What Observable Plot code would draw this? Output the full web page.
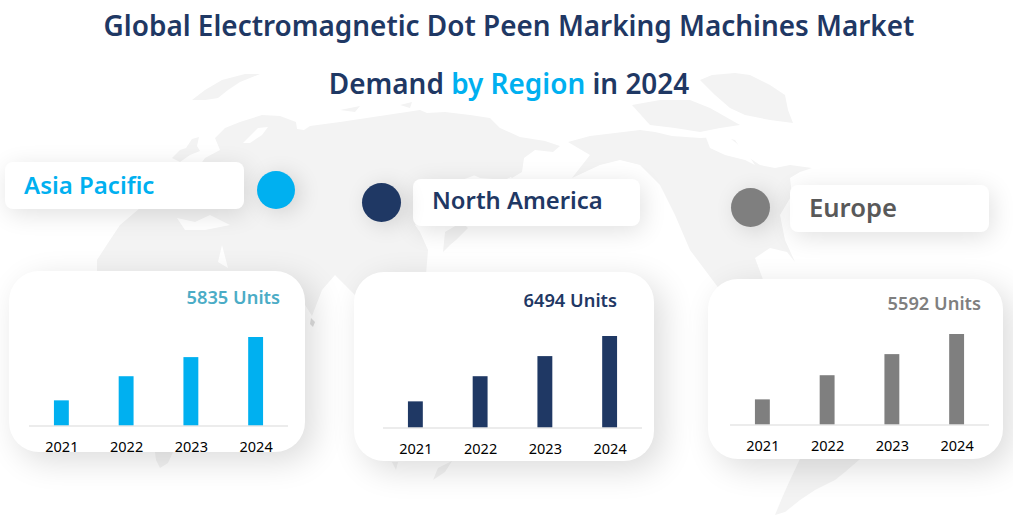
<!DOCTYPE html>
<html>
<head>
<meta charset="utf-8">
<script src="https://cdn.jsdelivr.net/npm/d3@7"></script>
<script src="https://cdn.jsdelivr.net/npm/@observablehq/plot@0.6"></script>
<style>
html,body{margin:0;padding:0;background:#fff;overflow:hidden}
#stage{position:relative;width:1013px;height:515px;overflow:hidden;font-family:"Noto Sans",sans-serif}
#stage>*{position:absolute}
.title{left:0;width:1018px;text-align:center;font-weight:600;font-size:27.9px;color:#1F3864;line-height:36px;white-space:nowrap}
.title span{color:#00B0F0}
.pill{background:#fff;border-radius:8px;box-shadow:3px 5px 24px rgba(0,0,0,.12)}
.pill span{position:absolute;left:19px;top:50%;font-weight:600;white-space:nowrap}
.dot{border-radius:50%;box-shadow:5px 3px 22px rgba(0,0,0,.14)}
.card{background:#fff;border-radius:30px;box-shadow:9px 9px 32px rgba(0,0,0,.14)}
.units{font-size:18.3px;font-weight:600;white-space:nowrap;transform:translate(-100%,-50%)}
svg{overflow:visible}
</style>
</head>
<body>
<div id="stage">
<svg id="map" width="1013" height="515" style="left:0;top:0" fill="#F3F3F3">
<path d="M192 100L205 90L222 80L245 74L260 74L250 78L240 82L228 90L218 98L205 100Z"/>
<path d="M172 158L180 150L186 148L192 139L199 137L197 146L200 151L190 155L180 162Z"/>
<path d="M215 138L225 128L240 122L262 115L280 116L296 122L297 129L304 130L310 126L340 122L380 116L420 110L427 113L445 112L470 115L490 118L500 128L520 137L545 141L560 146L553 152L535 150L524 158L522 172L512 178L505 172L498 168L478 174L462 180L452 190L440 200L430 212L415 225L420 232L428 250L426 275L400 285L360 300L345 285L335 275L322 290L312 316L302 300L290 300L200 280L97 275L97 260L108 243L120 225L140 208L165 200L180 190L195 172L205 158L220 150Z"/>
<path d="M568 142L590 136L640 130L655 132L672 136L700 138L722 137L735 140L745 155L760 165L775 168L790 165L812 168L800 172L790 178L792 195L780 215L785 240L795 262L787 252L770 248L755 258L765 285L790 292L800 310L720 290L690 250L675 215L660 185L640 165L620 160L600 165L585 172L572 178L590 155Z"/>
<path d="M632 105L660 100L690 100L710 108L740 125L720 128L700 132L675 128L650 125Z"/>
<path d="M712 75L735 73L750 75L770 85L785 95L788 110L793 123L770 120L745 115L730 108L715 95L700 80Z"/>
<path d="M800 459L860 459L845 472L835 480L815 490L800 500L785 512L775 515L782 498L790 480Z"/>
<path d="M155 452L173 452L168 463L160 468L156 460Z"/>
<path d="M392 462L398 462L396 470Z"/>
<path d="M452 461L445 472L433 480L438 468Z"/>
<path d="M445 232L462 222L468 228L456 240L450 245L443 252Z"/>
<path d="M463 170L490 165L520 172L505 180L480 178Z"/>
<path d="M340 110L360 106L355 112Z"/><path d="M400 105L412 102L410 108Z"/>
<path d="M311 318L315 322L313 327L310 324Z" fill="#DDD"/>
<g fill="#fff">
<path d="M243 143L258 128L268 127L262 135L250 143Z"/>
<path d="M705 135L725 134L745 150L755 165L745 160L725 155L710 148Z"/>
<path d="M218 262L222 245L228 268Z"/><path d="M177 218L195 222L210 215L230 225L205 230L185 230Z"/>
</g>
</svg>

<div class="title" style="top:7px">Global Electromagnetic Dot Peen Marking Machines Market</div>
<div class="title" style="top:65px">Demand <span>by Region</span> in 2024</div>
</div>
<script>
const years = ["2021", "2022", "2023", "2024"];
const regions = ["Asia Pacific", "North America", "Europe"];
const asiaPacific = [1658, 3249, 4509, 5835];
const northAmerica = [1855, 3640, 5067, 6494];
const europe = [1553, 3045, 4349, 5592];
const unitLabels = ["5835 Units", "6494 Units", "5592 Units"];
const seriesValues = [asiaPacific, northAmerica, europe];

const barColors = ["#00B0F0", "#1F3864", "#7F7F7F"];
const labelColors = ["#00B0F0", "#1F3864", "#595959"];
const unitColors = ["#4BACC6", "#1F3864", "#7F7F7F"];
const labelSizes = [24, 23.8, 25.6];
const layout = [
  {pill:[5,162,239,47], dot:[276,189.5,19], card:[9,271,296,181], axisX:29, baseY:425.5, plotH:88.5, unit:[280,296], lift:-54},
  {pill:[413,179,227,47], dot:[381,202,19.5], card:[354,272,300,189], axisX:383, baseY:427.5, plotH:91.5, unit:[617,299], lift:-58},
  {pill:[790,185,199,47], dot:[750,207,19.5], card:[708,279,295,180], axisX:730, baseY:424.5, plotH:90.5, unit:[981,302], lift:-54}
];
const stage = document.getElementById("stage");
function box(cls, l, t, w, h, bg) {
  const d = document.createElement("div");
  d.className = cls;
  d.style.cssText = `left:${l}px;top:${t}px;width:${w}px;height:${h}px;` + (bg ? `background:${bg};` : "");
  stage.appendChild(d);
  return d;
}
regions.forEach((name, i) => {
  const L = layout[i];
  box("card", ...L.card);
  const p = box("pill", ...L.pill);
  const s = document.createElement("span");
  s.textContent = name; s.style.color = labelColors[i]; s.style.fontSize = labelSizes[i] + "px";
  s.style.transform = `translateY(${L.lift}%)`;
  p.appendChild(s);
  box("dot", L.dot[0]-L.dot[2], L.dot[1]-L.dot[2], 2*L.dot[2], 2*L.dot[2], barColors[i]);
});
regions.forEach((name, i) => {
  const L = layout[i];
  const rows = years.map((year, j) => ({year, value: seriesValues[i][j]}));
  const bottom = 40;
  const chart = Plot.plot({
    width: 259,
    height: L.plotH + bottom,
    marginTop: 0, marginLeft: 0, marginRight: 0, marginBottom: bottom,
    style: {background: "transparent", fontFamily: "'Noto Sans',sans-serif", fontSize: "14.5px", color: "#000"},
    x: {domain: years, round: false, paddingInner: 0.77, paddingOuter: 0.385, label: null, tickSize: 0, tickPadding: 16},
    y: {domain: [0, d3.max(seriesValues[i])], axis: null},
    marks: [
      Plot.barY(rows, {x: "year", y: "value", fill: barColors[i]}),
      Plot.ruleY([0], {stroke: "#D9D9D9", strokeWidth: 1.2})
    ]
  });
  chart.style.position = "absolute";
  chart.style.left = L.axisX + "px";
  chart.style.top = (L.baseY - L.plotH) + "px";
  stage.appendChild(chart);
  const u = document.createElement("div");
  u.className = "units";
  u.textContent = unitLabels[i];
  u.style.cssText = `left:${L.unit[0]}px;top:${L.unit[1]}px;color:${unitColors[i]}`;
  stage.appendChild(u);
});
</script>
</body>
</html>
